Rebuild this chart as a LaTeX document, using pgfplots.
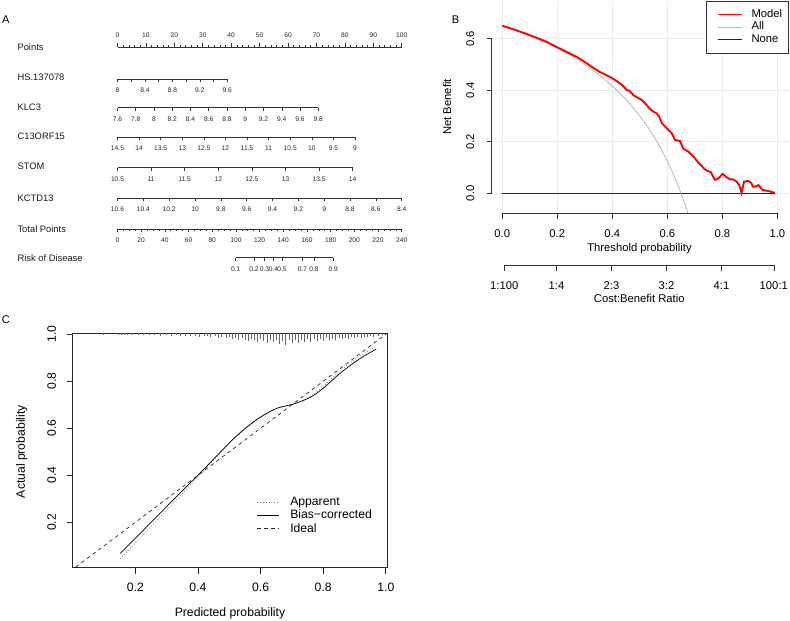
\documentclass[border=0pt]{standalone}
\usepackage{fontspec}
\setmainfont{Liberation Sans}
\usepackage{pgfplots}
\pgfplotsset{compat=1.18}
\pgfplotsset{
  /pgf/number format/assume math mode=true,
  nomo/.style={
    scale only axis, height=0.3cm, ymin=0, ymax=1,
    hide y axis, clip=false,
    axis line style={black!80, line width=0.5pt},
    tick style={black!80, line width=0.5pt},
    tick align=outside,
    major tick length=0.09cm, minor tick length=0.09cm,
    ticklabel style={font=\fontsize{5.7}{6}\selectfont, text=black!85},
    xticklabel shift=1.45pt
  },
  nomobottom/.style={nomo, axis x line*=bottom, anchor=south west}
}
\newcommand\fA{\fontsize{8}{9.5}\selectfont}
\newcommand\fB{\fontsize{9.6}{11}\selectfont}
\newcommand\fC{\fontsize{10.4}{12}\selectfont}

\begin{document}
\begin{tikzpicture}[x=0.03cm,y=0.03cm]
\path[use as bounding box] (0,0) rectangle (790,621);

% ---------- panel A: nomogram ----------
\node[font=\fontsize{9.5}{11}\selectfont] at (5.8,601.8) {A};
\foreach \lab/\yy in {Points/574, HS.137078/543.7, KLC3/513.3, C13ORF15/485,
    STOM/454.3, KCTD13/422.7, Total Points/392, Risk of Disease/362.7}
  \node[anchor=west, font=\fA, text=black!90, inner sep=0pt] at (17.3,\yy) {\lab};

\coordinate (aP) at (117.5,574);
\coordinate (a1) at (117.5,542);
\coordinate (a2) at (117.5,513.3);
\coordinate (a3) at (117.5,483.7);
\coordinate (a4) at (117.5,453.3);
\coordinate (a5) at (117.5,422.7);
\coordinate (aT) at (117.5,392);
\coordinate (aR) at (235.7,363.3);

\begin{axis}[nomo, axis x line*=top, anchor=north west, at={(aP)}, width=8.526cm,
  xmin=0, xmax=100, xtick={0,10,20,30,40,50,60,70,80,90,100},
  xticklabels={0,10,20,30,40,50,60,70,80,90,100},
  minor tick num=4, major tick length=0.105cm, minor tick length=0.06cm,
  xticklabel shift=1.6pt]
\end{axis}

\begin{axis}[nomobottom, at={(a1)}, width=3.294cm, xmin=8, xmax=9.6,
  xtick={8,8.4,8.8,9.2,9.6}, xticklabels={8,8.4,8.8,9.2,9.6},
  minor xtick={8.2,8.6,9.0,9.4}]
\end{axis}

\begin{axis}[nomobottom, at={(a2)}, width=6.024cm, xmin=7.6, xmax=9.8,
  xtick={7.6,7.8,8,8.2,8.4,8.6,8.8,9,9.2,9.4,9.6,9.8},
  xticklabels={7.6,7.8,8,8.2,8.4,8.6,8.8,9,9.2,9.4,9.6,9.8}]
\end{axis}

\begin{axis}[nomobottom, at={(a3)}, width=7.125cm, xmin=9, xmax=14.5, x dir=reverse,
  xtick={9,9.5,10,10.5,11,11.5,12,12.5,13,13.5,14,14.5},
  xticklabels={9,9.5,10,10.5,11,11.5,12,12.5,13,13.5,14,14.5}]
\end{axis}

\begin{axis}[nomobottom, at={(a4)}, width=7.056cm, xmin=10.5, xmax=14,
  xtick={10.5,11,11.5,12,12.5,13,13.5,14},
  xticklabels={10.5,11,11.5,12,12.5,13,13.5,14}]
\end{axis}

\begin{axis}[nomobottom, at={(a5)}, width=8.526cm, xmin=8.4, xmax=10.6, x dir=reverse,
  xtick={8.4,8.6,8.8,9,9.2,9.4,9.6,9.8,10,10.2,10.4,10.6},
  xticklabels={8.4,8.6,8.8,9,9.2,9.4,9.6,9.8,10,10.2,10.4,10.6}]
\end{axis}

\begin{axis}[nomobottom, at={(aT)}, width=8.526cm, xmin=0, xmax=240,
  xtick={0,20,40,60,80,100,120,140,160,180,200,220,240},
  xticklabels={0,20,40,60,80,100,120,140,160,180,200,220,240},
  minor tick num=3, minor tick length=0.06cm]
\end{axis}

% risk scale, positioned on the total-points scale
\begin{axis}[nomobottom, at={(aR)}, width=2.928cm, xmin=99.8, xmax=182.2,
  xtick={99.8,115.3,124.1,131.7,138.9,156.2,165.9,182.2},
  xticklabels={0.1,0.2,0.3,0.4,0.5,0.7,0.8,0.9}]
\end{axis}

% ---------- panel B: decision curve ----------
\node[font=\fontsize{9.5}{11}\selectfont] at (455.5,601.5) {B};
\coordinate (b0) at (491.3,407.7);
\coordinate (by) at (491.7,427.7);
\coordinate (bx) at (502.3,407.7);
\coordinate (bc) at (504.3,356);

\begin{axis}[scale only axis, at={(b0)}, anchor=south west,
  width=8.91cm, height=6.378cm,
  xmin=-0.04, xmax=1.04, ymin=-0.0776, ymax=0.747,
  axis line style={draw=none}, major tick length=0pt,
  xtick={0,0.2,0.4,0.6,0.8,1}, ytick={0,0.2,0.4,0.6},
  xticklabels={}, yticklabels={},
  grid=major, major grid style={gray!16, line width=0.5pt},
  reverse legend,
  legend style={at={(1,1)}, anchor=north east, draw=black!80, line width=0.5pt,
    fill=white, font=\fB, inner xsep=5pt, inner ysep=7.1pt, row sep=1.6pt,
    column sep=7.1pt, cells={anchor=west},
    nodes={inner xsep=0pt, inner ysep=0pt, text height=7pt, text depth=2pt}},
  legend image code/.code={\path (0,0); \draw[#1] (0.15cm,0cm) -- (0.87cm,0cm);}]
\addplot[black!85, line width=0.7pt] coordinates {(0,0) (0.99,0)};
\addlegendentry{None}
\addplot[gray!55, line width=0.7pt] coordinates {
  (0,0.65) (0.05,0.6316) (0.1,0.6111) (0.15,0.5882) (0.2,0.5625) (0.25,0.5333)
  (0.3,0.5) (0.35,0.4615) (0.4,0.4167) (0.45,0.3636) (0.5,0.30) (0.525,0.2632)
  (0.55,0.2222) (0.575,0.1765) (0.6,0.125) (0.62,0.0789) (0.64,0.0278)
  (0.66,-0.0294) (0.68,-0.0938)};
\addlegendentry{All}
\addplot[red, line width=1.6pt] coordinates {
  (0,0.650) (0.04,0.636) (0.08,0.621) (0.12,0.605) (0.16,0.588) (0.2,0.566)
  (0.24,0.545) (0.27,0.529) (0.29,0.516) (0.31,0.502) (0.33,0.487) (0.355,0.470)
  (0.375,0.460) (0.398,0.447) (0.415,0.436) (0.434,0.421) (0.445,0.410)
  (0.452,0.400) (0.462,0.398) (0.477,0.380) (0.49,0.372) (0.507,0.362)
  (0.52,0.348) (0.537,0.327) (0.55,0.316) (0.561,0.310) (0.57,0.298)
  (0.58,0.272) (0.598,0.252) (0.616,0.233) (0.628,0.207) (0.646,0.203)
  (0.658,0.173) (0.676,0.162) (0.695,0.142) (0.713,0.119) (0.725,0.106)
  (0.737,0.092) (0.748,0.086) (0.758,0.082) (0.773,0.052) (0.786,0.058)
  (0.801,0.075) (0.816,0.062) (0.828,0.054) (0.840,0.054) (0.852,0.045)
  (0.862,0.030) (0.870,0.002) (0.879,0.045) (0.895,0.048) (0.905,0.040)
  (0.911,0.026) (0.920,0.026) (0.931,0.032) (0.946,0.013) (0.967,0.009)
  (0.986,0.003) (0.99,0.0)};
\addlegendentry{Model}
\end{axis}

\begin{axis}[scale only axis, at={(by)}, anchor=south west, width=1cm, height=4.638cm,
  xmin=0, xmax=1, ymin=0, ymax=0.6, hide x axis, axis y line*=left,
  axis line style={black!80, line width=0.5pt}, tick style={black!80, line width=0.5pt},
  tick align=outside, major tick length=0.15cm,
  ytick={0,0.2,0.4,0.6}, yticklabels={0.0,0.2,0.4,0.6},
  yticklabel style={rotate=90, anchor=south, font=\fB}, yticklabel shift=7.1pt]
\end{axis}

\begin{axis}[scale only axis, at={(bx)}, anchor=south west, width=8.25cm, height=1cm,
  xmin=0, xmax=1, ymin=0, ymax=1, hide y axis, axis x line*=bottom,
  axis line style={black!80, line width=0.5pt}, tick style={black!80, line width=0.5pt},
  tick align=outside, major tick length=0.18cm,
  xtick={0,0.2,0.4,0.6,0.8,1}, xticklabels={0.0,0.2,0.4,0.6,0.8,1.0},
  xticklabel style={font=\fB}, xticklabel shift=5.3pt]
\end{axis}

\begin{axis}[scale only axis, at={(bc)}, anchor=south west, width=8.085cm, height=1cm,
  xmin=0.01, xmax=0.99, ymin=0, ymax=1, hide y axis, axis x line*=bottom,
  axis line style={black!80, line width=0.5pt}, tick style={black!80, line width=0.5pt},
  tick align=outside, major tick length=0.18cm,
  xtick={0.0099,0.2,0.4,0.6,0.8,0.99}, xticklabels={1:100,1:4,2:3,3:2,4:1,100:1},
  xticklabel style={font=\fB}, xticklabel shift=5.3pt]
\end{axis}

\node[rotate=90, font=\fB] at (447,514) {Net Benefit};
\node[font=\fB] at (639.5,372.7) {Threshold probability};
\node[font=\fB] at (639.3,322.7) {Cost:Benefit Ratio};

% ---------- panel C: calibration ----------
\node[font=\fontsize{9.5}{11}\selectfont] at (5.8,301.8) {C};
\coordinate (c0) at (72.7,53.3);

\begin{axis}[scale only axis, at={(c0)}, anchor=south west, width=9.45cm, height=7.032cm,
  xmin=0, xmax=1.006, ymin=0.007, ymax=1.004,
  axis line style={black!85, line width=0.6pt}, tick style={black!85, line width=0.6pt},
  tick pos=left, tick align=outside, major tick length=0.18cm,
  xtick={0.2,0.4,0.6,0.8,1}, xticklabels={0.2,0.4,0.6,0.8,1.0},
  ytick={0.2,0.4,0.6,0.8,1}, yticklabels={0.2,0.4,0.6,0.8,1.0},
  ticklabel style={font=\fC},
  yticklabel style={rotate=90, anchor=south}, yticklabel shift=5.5pt,
  xticklabel shift=4.7pt,
  legend style={at={(0.5841,0.3031)}, anchor=north west, draw=none, fill=none,
    font=\fC, inner sep=0pt, row sep=1.6pt, column sep=9.35pt, cells={anchor=west},
    nodes={inner xsep=0pt, inner ysep=0pt, text height=7.6pt, text depth=2pt}},
  legend image code/.code={\draw[#1] (0cm,0cm) -- (0.65cm,0cm);}]
\addplot[black!50, line width=0.6pt, dash pattern=on 0.8pt off 1.6pt, smooth] coordinates {
  (0.152,0.045) (0.2,0.112) (0.28,0.224) (0.344,0.314) (0.4,0.394)
  (0.461,0.480) (0.514,0.553) (0.556,0.603) (0.6,0.646) (0.652,0.684)
  (0.705,0.704) (0.758,0.735) (0.8,0.778) (0.854,0.845) (0.918,0.908)
  (0.969,0.948)};
\addlegendentry{Apparent}
\addplot[black, line width=0.6pt, smooth] coordinates {
  (0.152,0.068) (0.2,0.132) (0.28,0.240) (0.344,0.326) (0.4,0.400)
  (0.461,0.484) (0.514,0.556) (0.556,0.605) (0.6,0.648) (0.652,0.685)
  (0.705,0.703) (0.758,0.731) (0.8,0.770) (0.854,0.834) (0.918,0.897)
  (0.969,0.936)};
\addlegendentry{Bias−corrected}
\addplot[black!85, line width=0.6pt, dash pattern=on 3pt off 3pt] coordinates {
  (0.01,0.01) (1.0,1.0)};
\addlegendentry{Ideal}
% rug of predicted probabilities along the top edge
\addplot[forget plot, draw=none, mark=none,
  error bars/.cd, y dir=minus, y explicit, error mark=none,
  error bar style={draw=black!60, line width=0.45pt, solid}] coordinates {
  (0.097,1.004) -= (0,0.0064) (0.145,1.004) -= (0,0.0085) (0.155,1.004) -= (0,0.0085)
  (0.165,1.004) -= (0,0.0064) (0.175,1.004) -= (0,0.0085) (0.19,1.004) -= (0,0.0085)
  (0.21,1.004) -= (0,0.0064) (0.225,1.004) -= (0,0.0085) (0.245,1.004) -= (0,0.0085)
  (0.26,1.004) -= (0,0.0064) (0.28,1.004) -= (0,0.0106) (0.30,1.004) -= (0,0.0085)
  (0.315,1.004) -= (0,0.0106) (0.33,1.004) -= (0,0.0085) (0.345,1.004) -= (0,0.0128)
  (0.36,1.004) -= (0,0.0106) (0.375,1.004) -= (0,0.0128) (0.39,1.004) -= (0,0.0106)
  (0.405,1.004) -= (0,0.0149) (0.42,1.004) -= (0,0.0128) (0.43,1.004) -= (0,0.0106)
  (0.44,1.004) -= (0,0.0170) (0.455,1.004) -= (0,0.0128) (0.465,1.004) -= (0,0.0191)
  (0.475,1.004) -= (0,0.0149) (0.49,1.004) -= (0,0.0213) (0.50,1.004) -= (0,0.0170)
  (0.51,1.004) -= (0,0.0255) (0.52,1.004) -= (0,0.0191) (0.53,1.004) -= (0,0.0298)
  (0.54,1.004) -= (0,0.0213) (0.55,1.004) -= (0,0.0277) (0.56,1.004) -= (0,0.0340)
  (0.57,1.004) -= (0,0.0234) (0.58,1.004) -= (0,0.0298) (0.59,1.004) -= (0,0.0383)
  (0.60,1.004) -= (0,0.0255) (0.61,1.004) -= (0,0.0340) (0.62,1.004) -= (0,0.0426)
  (0.63,1.004) -= (0,0.0277) (0.64,1.004) -= (0,0.0383) (0.65,1.004) -= (0,0.0298)
  (0.66,1.004) -= (0,0.0468) (0.67,1.004) -= (0,0.0340) (0.68,1.004) -= (0,0.0510)
  (0.69,1.004) -= (0,0.0298) (0.70,1.004) -= (0,0.0404) (0.71,1.004) -= (0,0.0277)
  (0.72,1.004) -= (0,0.0426) (0.73,1.004) -= (0,0.0298) (0.74,1.004) -= (0,0.0362)
  (0.75,1.004) -= (0,0.0255) (0.76,1.004) -= (0,0.0383) (0.77,1.004) -= (0,0.0234)
  (0.78,1.004) -= (0,0.0319) (0.79,1.004) -= (0,0.0255) (0.80,1.004) -= (0,0.0340)
  (0.81,1.004) -= (0,0.0213) (0.82,1.004) -= (0,0.0298) (0.83,1.004) -= (0,0.0234)
  (0.84,1.004) -= (0,0.0277) (0.85,1.004) -= (0,0.0191) (0.86,1.004) -= (0,0.0255)
  (0.87,1.004) -= (0,0.0213) (0.88,1.004) -= (0,0.0234) (0.89,1.004) -= (0,0.0170)
  (0.90,1.004) -= (0,0.0213) (0.91,1.004) -= (0,0.0170) (0.92,1.004) -= (0,0.0191)
  (0.93,1.004) -= (0,0.0149) (0.94,1.004) -= (0,0.0170) (0.95,1.004) -= (0,0.0128)
  (0.96,1.004) -= (0,0.0149) (0.975,1.004) -= (0,0.0106) (0.99,1.004) -= (0,0.0085)};
\end{axis}

\node[font=\fC] at (230,7.7) {Predicted probability};
\node[rotate=90, font=\fC] at (21.7,169.3) {Actual probability};
\end{tikzpicture}
\end{document}
